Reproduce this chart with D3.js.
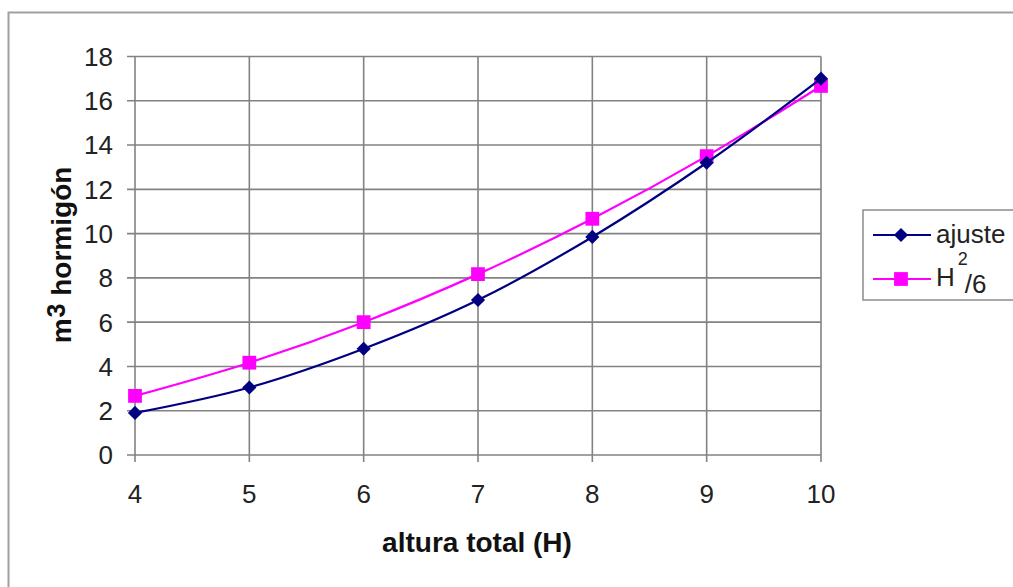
<!DOCTYPE html>
<html><head><meta charset="utf-8">
<script src="https://cdn.jsdelivr.net/npm/d3@7"></script>
<style>body{margin:0;background:#fff}svg{display:block;font-family:"Liberation Sans",Arial,sans-serif}</style>
</head><body><svg id="c" width="1013" height="587"></svg>
<script>
const heights = [4,5,6,7,8,9,10];
const ajuste = [1.9,3.05,4.8,7.0,9.85,13.2,17.0];
const h2over6 = [2.67,4.17,6.0,8.17,10.67,13.5,16.67];
const yTicks = [0,2,4,6,8,10,12,14,16,18];
const xTicks = [4,5,6,7,8,9,10];

const svg = d3.select("#c");
const L=135,R=821,T=56.5,B=455;
const x = d3.scaleLinear().domain([4,10]).range([L,R]);
const y = d3.scaleLinear().domain([0,18]).range([B,T]);

svg.append("rect").attr("x",8.5).attr("y",12.5).attr("width",1010).attr("height",590)
  .attr("fill","#fff").attr("stroke","#a0a0a0").attr("stroke-width",2);

const g = svg.append("g").attr("stroke","#828282").attr("stroke-width",1.6);
yTicks.forEach(t=>g.append("line").attr("x1",L-8).attr("x2",R).attr("y1",y(t)).attr("y2",y(t)));
xTicks.forEach(t=>g.append("line").attr("x1",x(t)).attr("x2",x(t)).attr("y1",T).attr("y2",B+7));

svg.append("g").selectAll("text").data(yTicks).join("text")
  .attr("x",113).attr("y",d=>y(d)).attr("dy","0.36em").attr("text-anchor","end")
  .attr("font-size",26).attr("fill","#222").text(d=>d);
svg.append("g").selectAll("text").data(xTicks).join("text")
  .attr("x",d=>x(d)).attr("y",503).attr("text-anchor","middle")
  .attr("font-size",26).attr("fill","#222").text(d=>d);

svg.append("text").attr("x",477).attr("y",552).attr("text-anchor","middle")
  .attr("font-size",28).attr("font-weight","bold").attr("fill","#111").text("altura total (H)");
const yt = svg.append("text").attr("transform","translate(71,255) rotate(-90)").attr("text-anchor","middle")
  .attr("font-size",28).attr("font-weight","bold").attr("fill","#111");
yt.append("tspan").text("m");
yt.append("tspan").attr("font-size",25).attr("dy",-6).attr("dx",1).text("3");
yt.append("tspan").attr("dy",6).text(" hormigón");

const line = d3.line().x((d,i)=>x(heights[i])).y(d=>y(d)).curve(d3.curveCatmullRom.alpha(0.5));
const diamond = d3.symbol().type(d3.symbolSquare).size(100);

function series(vals,color,isDiamond){
  svg.append("path").attr("d",line(vals)).attr("fill","none").attr("stroke",color).attr("stroke-width",2.2);
  svg.append("g").selectAll("path").data(vals).join("path")
    .attr("transform",(d,i)=>`translate(${x(heights[i])},${y(d)})` + (isDiamond?" rotate(45)":""))
    .attr("d",isDiamond?diamond:d3.symbol().type(d3.symbolSquare).size(190)).attr("fill",color);
}
series(h2over6,"#ff00ff",false);
series(ajuste,"#000080",true);

svg.append("rect").attr("x",863).attr("y",210).attr("width",160).attr("height",90)
  .attr("fill","#fff").attr("stroke","#8c8c8c").attr("stroke-width",1.5);
const lg = svg.append("g");
lg.append("line").attr("x1",873).attr("x2",931).attr("y1",235).attr("y2",235).attr("stroke","#000080").attr("stroke-width",2.2);
lg.append("path").attr("transform","translate(901,235) rotate(45)").attr("d",diamond).attr("fill","#000080");
lg.append("text").attr("x",936).attr("y",243).attr("font-size",26).attr("fill","#222").text("ajuste");
lg.append("line").attr("x1",873).attr("x2",931).attr("y1",279).attr("y2",279).attr("stroke","#ff00ff").attr("stroke-width",2.2);
lg.append("path").attr("transform","translate(901,279)").attr("d",d3.symbol().type(d3.symbolSquare).size(190)).attr("fill","#ff00ff");
const t2 = lg.append("text").attr("x",936).attr("y",286).attr("font-size",26).attr("fill","#222");
t2.append("tspan").text("H");
t2.append("tspan").attr("font-size",18).attr("dy",-21).attr("dx",3).text("2");
t2.append("tspan").attr("dy",28).attr("dx",-3).text("/6");
</script></body></html>
